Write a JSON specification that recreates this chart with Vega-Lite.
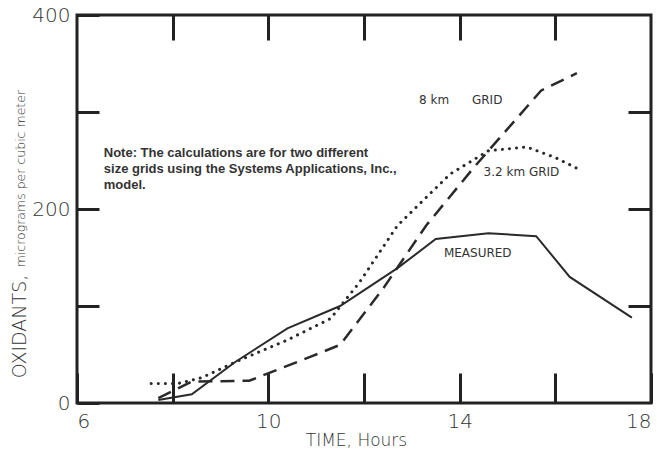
{
  "$schema": "https://vega.github.io/schema/vega-lite/v6.json",
  "width": 574,
  "height": 388,
  "autosize": {"type": "none"},
  "padding": {"left": 77, "top": 15, "right": 6, "bottom": 47},
  "background": "white",
  "config": {
    "view": {"stroke": "#222", "strokeWidth": 3},
    "axis": {
      "domain": false,
      "grid": false,
      "tickColor": "#222",
      "tickWidth": 3,
      "labelFont": "DejaVu Sans",
      "labelFontWeight": 200,
      "labelFontSize": 20,
      "labelColor": "#333",
      "titleFont": "DejaVu Sans",
      "titleFontWeight": 200,
      "titleColor": "#333"
    }
  },
  "datasets": {
    "series": [
      {"series": "MEASURED", "time": 7.7, "oxidants": 3},
      {"series": "MEASURED", "time": 8.4, "oxidants": 9},
      {"series": "MEASURED", "time": 9.3, "oxidants": 42},
      {"series": "MEASURED", "time": 10.4, "oxidants": 77},
      {"series": "MEASURED", "time": 11.5, "oxidants": 100},
      {"series": "MEASURED", "time": 12.7, "oxidants": 139},
      {"series": "MEASURED", "time": 13.5, "oxidants": 169},
      {"series": "MEASURED", "time": 14.6, "oxidants": 175},
      {"series": "MEASURED", "time": 15.6, "oxidants": 172},
      {"series": "MEASURED", "time": 16.3, "oxidants": 130},
      {"series": "MEASURED", "time": 17.6, "oxidants": 88},
      {"series": "8 km GRID", "time": 7.7, "oxidants": 5},
      {"series": "8 km GRID", "time": 8.4, "oxidants": 22},
      {"series": "8 km GRID", "time": 9.6, "oxidants": 23},
      {"series": "8 km GRID", "time": 10.9, "oxidants": 48},
      {"series": "8 km GRID", "time": 11.5, "oxidants": 60},
      {"series": "8 km GRID", "time": 12.4, "oxidants": 118},
      {"series": "8 km GRID", "time": 13.3, "oxidants": 183},
      {"series": "8 km GRID", "time": 14.3, "oxidants": 243},
      {"series": "8 km GRID", "time": 15.7, "oxidants": 322},
      {"series": "8 km GRID", "time": 16.45, "oxidants": 340},
      {"series": "3.2 km GRID", "time": 7.55, "oxidants": 20},
      {"series": "3.2 km GRID", "time": 8.1, "oxidants": 20},
      {"series": "3.2 km GRID", "time": 8.6, "oxidants": 26},
      {"series": "3.2 km GRID", "time": 9.3, "oxidants": 42},
      {"series": "3.2 km GRID", "time": 10.4, "oxidants": 65},
      {"series": "3.2 km GRID", "time": 11.3, "oxidants": 87},
      {"series": "3.2 km GRID", "time": 11.9, "oxidants": 124},
      {"series": "3.2 km GRID", "time": 12.7, "oxidants": 183},
      {"series": "3.2 km GRID", "time": 13.8, "oxidants": 236},
      {"series": "3.2 km GRID", "time": 14.6, "oxidants": 260},
      {"series": "3.2 km GRID", "time": 15.4, "oxidants": 264},
      {"series": "3.2 km GRID", "time": 16.0, "oxidants": 253},
      {"series": "3.2 km GRID", "time": 16.45, "oxidants": 242}
    ]
  },
  "layer": [
    {
      "data": {"name": "series"},
      "transform": [{"filter": "datum.series === 'MEASURED'"}],
      "mark": {"type": "line", "color": "#2a2a2a", "strokeWidth": 2},
      "encoding": {
        "x": {
          "field": "time", "type": "quantitative",
          "scale": {"domain": [6, 18], "nice": false},
          "axis": {
            "orient": "bottom",
            "values": [6, 8, 10, 12, 14, 16, 18],
            "labelExpr": "datum.value % 4 == 2 ? datum.label : ''",
            "tickSize": -30,
            "labelPadding": 38,
            "labelBaseline": "top",
            "title": "TIME, Hours",
            "titleFontSize": 17,
            "titleX": 279,
            "titleY": 37,
            "titleBaseline": "middle"
          }
        },
        "y": {
          "field": "oxidants", "type": "quantitative",
          "scale": {"domain": [0, 400], "nice": false},
          "axis": {
            "orient": "left",
            "values": [0, 100, 200, 300, 400],
            "labelExpr": "datum.value % 200 == 0 ? datum.label : ''",
            "tickSize": -22,
            "labelPadding": 29,
            "title": "OXIDANTS,",
            "titleFontSize": 19,
            "titleAngle": 270,
            "titleX": -52,
            "titleY": 311,
            "titleAlign": "center",
            "titleBaseline": "alphabetic"
          }
        }
      }
    },
    {
      "data": {"name": "series"},
      "transform": [{"filter": "datum.series === '8 km GRID'"}],
      "mark": {"type": "line", "color": "#2a2a2a", "strokeWidth": 2.5, "strokeDash": [14, 8]},
      "encoding": {
        "x": {
          "field": "time", "type": "quantitative",
          "scale": {"domain": [6, 18], "nice": false},
          "axis": {"orient": "top", "values": [8, 10, 12, 14, 16], "labels": false, "tickSize": -25, "title": null}
        },
        "y": {
          "field": "oxidants", "type": "quantitative",
          "scale": {"domain": [0, 400], "nice": false},
          "axis": {"orient": "right", "values": [100, 200, 300], "labels": false, "tickSize": -23, "title": null}
        }
      }
    },
    {
      "data": {"name": "series"},
      "transform": [{"filter": "datum.series === '3.2 km GRID'"}],
      "mark": {"type": "line", "color": "#2a2a2a", "strokeWidth": 3, "strokeDash": [0.1, 7], "strokeCap": "round"},
      "encoding": {
        "x": {"field": "time", "type": "quantitative", "scale": {"domain": [6, 18], "nice": false}, "axis": null},
        "y": {"field": "oxidants", "type": "quantitative", "scale": {"domain": [0, 400], "nice": false}, "axis": null}
      }
    },
    {
      "data": {"values": [
        {"label": "8 km\u00a0\u00a0\u00a0\u00a0\u00a0 GRID", "time": 13.15, "oxidants": 312},
        {"label": "3.2 km GRID", "time": 14.5, "oxidants": 238},
        {"label": "MEASURED", "time": 13.67, "oxidants": 154.5}
      ]},
      "mark": {"type": "text", "align": "left", "baseline": "middle", "font": "DejaVu Sans", "fontSize": 12, "color": "#333"},
      "encoding": {
        "x": {"field": "time", "type": "quantitative", "scale": {"domain": [6, 18], "nice": false}, "axis": null},
        "y": {"field": "oxidants", "type": "quantitative", "scale": {"domain": [0, 400], "nice": false}, "axis": null},
        "text": {"field": "label"}
      }
    },
    {
      "data": {"values": [
        {"note": "Note: The calculations are for two different\nsize grids using the Systems Applications, Inc.,\nmodel.", "time": 6.56, "oxidants": 253.7}
      ]},
      "mark": {"type": "text", "align": "left", "baseline": "alphabetic", "font": "Liberation Sans", "fontWeight": "bold", "fontSize": 13, "lineHeight": 16, "lineBreak": "\n", "color": "#333"},
      "encoding": {
        "x": {"field": "time", "type": "quantitative", "scale": {"domain": [6, 18], "nice": false}, "axis": null},
        "y": {"field": "oxidants", "type": "quantitative", "scale": {"domain": [0, 400], "nice": false}, "axis": null},
        "text": {"field": "note"}
      }
    },
    {
      "data": {"values": [
        {"unit": "micrograms per cubic meter", "time": 4.91, "oxidants": 231.3}
      ]},
      "mark": {"type": "text", "align": "center", "baseline": "alphabetic", "angle": 270, "font": "DejaVu Sans", "fontWeight": 200, "fontSize": 12.5, "color": "#333"},
      "encoding": {
        "x": {"field": "time", "type": "quantitative", "scale": {"domain": [6, 18], "nice": false}, "axis": null},
        "y": {"field": "oxidants", "type": "quantitative", "scale": {"domain": [0, 400], "nice": false}, "axis": null},
        "text": {"field": "unit"}
      }
    }
  ],
  "resolve": {"axis": {"x": "independent", "y": "independent"}}
}
